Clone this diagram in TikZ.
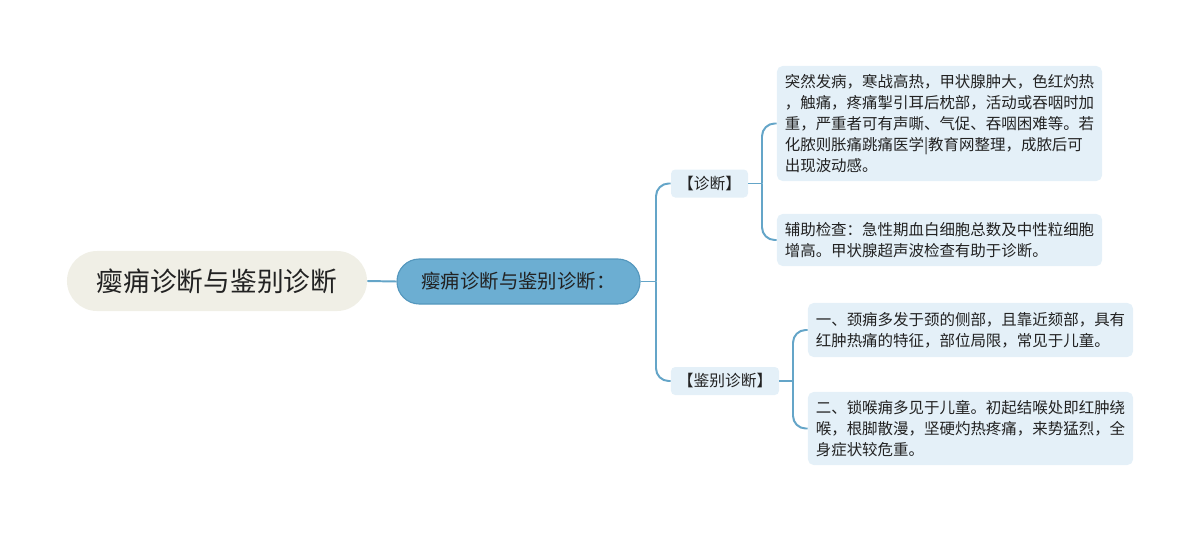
\documentclass[tikz,border=0pt]{standalone}
\usepackage{fontspec}
\setmainfont{Noto Sans CJK SC}
\definecolor{linkblue}{HTML}{64A5C8}
\definecolor{mainfill}{HTML}{6CAED2}
\definecolor{mainedge}{HTML}{5497BD}
\definecolor{rootfill}{HTML}{F0EFE6}
\definecolor{leaffill}{HTML}{E4F0F8}
\definecolor{textdark}{HTML}{222222}
\begin{document}
\begin{tikzpicture}[x=0.025cm, y=-0.025cm,
    rootbox/.style={fill=rootfill, rounded corners=0.75cm, minimum width=7.5cm, minimum height=1.5cm, font=\fontsize{19pt}{22pt}\selectfont, text=textdark},
    mainbox/.style={fill=mainfill, draw=mainedge, line width=0.8pt, rounded corners=0.56cm, minimum width=6.075cm, minimum height=1.125cm, font=\fontsize{13.8pt}{16pt}\selectfont, text=textdark},
    tagbox/.style={fill=leaffill, rounded corners=3pt, minimum height=0.7cm, inner sep=0pt, font=\fontsize{11.2pt}{13pt}\selectfont, text=textdark},
    leafbox/.style={fill=leaffill, rounded corners=4pt, minimum width=8.125cm, inner sep=0pt, align=left, font=\fontsize{11pt}{14.9pt}\selectfont, text=textdark},
    link/.style={draw=linkblue, line width=1.4pt, rounded corners=9pt}]
        \useasboundingbox (0,0) rectangle (1200,533);
        \node [rootbox] (root) at (217, 281) {瘿痈诊断与鉴别诊断};
        \node [mainbox] (main) at (518.5, 281.5) {瘿痈诊断与鉴别诊断：};
        \node [tagbox, minimum width=1.925cm] (diag) at (709.5, 183.5) {【诊断】};
        \node [tagbox, minimum width=2.7cm] (diff) at (725, 381) {【鉴别诊断】};
        \node [leafbox, minimum height=2.875cm] (leafa) at (939.5, 123.5) {突然发病，寒战高热，甲状腺肿大，色红灼热\\，触痛，疼痛掣引耳后枕部，活动或吞咽时加\\重，严重者可有声嘶、气促、吞咽困难等。若\\化脓则胀痛跳痛医学|教育网整理，成脓后可\\出现波动感。};
        \node [leafbox, minimum height=1.3cm] (leafb) at (939.5, 240) {辅助检查：急性期血白细胞总数及中性粒细胞\\增高。甲状腺超声波检查有助于诊断。};
        \node [leafbox, minimum height=1.35cm] (leafc) at (970.5, 330) {一、颈痈多发于颈的侧部，且靠近颏部，具有\\红肿热痛的特征，部位局限，常见于儿童。};
        \node [leafbox, minimum height=1.825cm] (leafd) at (970.5, 428.5) {二、锁喉痈多见于儿童。初起结喉处即红肿绕\\喉，根脚散漫，坚硬灼热疼痛，来势猛烈，全\\身症状较危重。};
        \coordinate (j0) at (656, 281.5);
        \coordinate (j1) at (762, 183.5);
        \coordinate (j2) at (793, 381);
        \draw [link] (root.east) to (main.west);
        \draw [link] (main.east) to (j0);
        \draw [link] (j0) |- (diag.west);
        \draw [link] (j0) |- (diff.west);
        \draw [link] (diag.east) to (j1);
        \draw [link] (j1) |- (leafa.west);
        \draw [link] (j1) |- (leafb.west);
        \draw [link] (diff.east) to (j2);
        \draw [link] (j2) |- (leafc.west);
        \draw [link] (j2) |- (leafd.west);
    \end{tikzpicture}
\end{document}
